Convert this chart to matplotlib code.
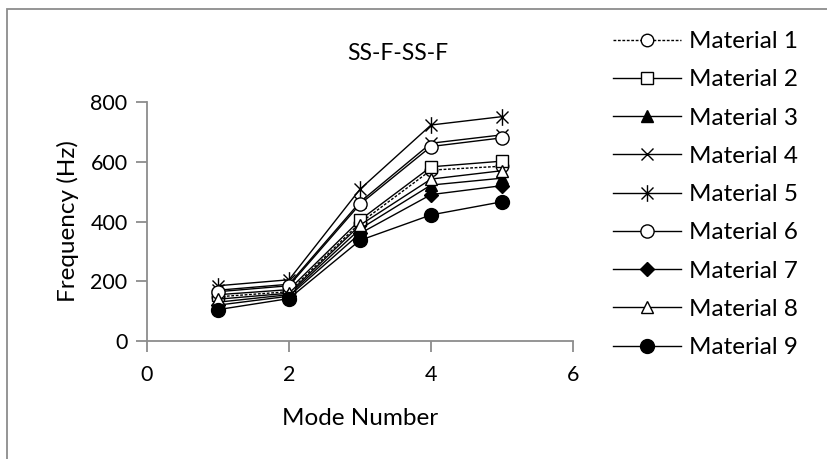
import matplotlib
matplotlib.use("Agg")
import matplotlib.pyplot as plt
from matplotlib.path import Path
from matplotlib.patches import Rectangle

# --- data ---
modes = [1, 2, 3, 4, 5]
labels = ["Material 1", "Material 2", "Material 3", "Material 4", "Material 5",
          "Material 6", "Material 7", "Material 8", "Material 9"]
m1 = [148, 165, 395, 572, 585]
m2 = [155, 172, 405, 583, 602]
m3 = [130, 155, 375, 522, 545]
m4 = [170, 190, 465, 662, 690]
m5 = [185, 205, 508, 723, 751]
m6 = [165, 185, 458, 651, 680]
m7 = [120, 150, 360, 490, 520]
m8 = [140, 160, 388, 542, 570]
m9 = [105, 142, 337, 422, 466]
series = [m1, m2, m3, m4, m5, m6, m7, m8, m9]

# Excel style asterisk: vertical bar plus an X
ast = Path([(0, -1), (0, 1), (-0.72, -0.72), (0.72, 0.72), (-0.72, 0.72), (0.72, -0.72)],
           [Path.MOVETO, Path.LINETO] * 3)

# marker, fill colour, size, line style
styles = [
    ("o", "white", 9, (0, (2, 1.2))),
    ("s", "white", 8.5, "-"),
    ("^", "black", 9, "-"),
    ("x", "none", 9, "-"),
    (ast, "none", 12, "-"),
    ("o", "white", 9.5, "-"),
    ("D", "black", 7.5, "-"),
    ("^", "white", 9, "-"),
    ("o", "black", 10, "-"),
]

plt.rcParams['font.family'] = ['Lato', 'DejaVu Sans']

fig = plt.figure(figsize=(8.28, 4.59), dpi=100)
ax = fig.add_axes([147 / 828, 1 - 341 / 459, (573 - 147) / 828, (341 - 102) / 459])

for vals, lab, (mk, fc, ms, ls) in zip(series, labels, styles):
    ax.plot(modes, vals, color="black", linewidth=1, linestyle=ls, marker=mk,
            markersize=ms, markerfacecolor=fc, markeredgecolor="black",
            markeredgewidth=1, label=lab)

ax.set_xlim(0, 6)
ax.set_ylim(0, 800)
ax.set_xticks([0, 2, 4, 6])
ax.set_yticks([0, 200, 400, 600, 800])
for side in ["top", "right"]:
    ax.spines[side].set_visible(False)
for side in ["left", "bottom"]:
    ax.spines[side].set_color("#8c8c8c")
    ax.spines[side].set_linewidth(1.3)
ax.tick_params(axis="both", colors="#8c8c8c", labelcolor="black", labelsize=15.5,
               length=8, width=1.3, direction="out")
ax.tick_params(axis="x", pad=9)
ax.tick_params(axis="y", pad=6)
ax.set_xlabel("Mode Number", fontsize=17.5, labelpad=17)
ax.set_ylabel("Frequency (Hz)", fontsize=17.5, labelpad=8)

fig.text(398 / 828, 1 - 53 / 459, "SS-F-SS-F", fontsize=16.5, ha="center", va="center")

leg = ax.legend(loc="upper left", bbox_to_anchor=(613 / 828, 1 - 31 / 459),
                bbox_transform=fig.transFigure, frameon=False, fontsize=17.5,
                handlelength=2.8, handletextpad=0.33, labelspacing=0.71,
                borderaxespad=0, borderpad=0)

# chart border (only left and top edges are visible in the crop)
fig.patches.append(Rectangle((7 / 828, -0.05), 1.2, 1 - 9 / 459 + 0.05,
                             transform=fig.transFigure, fill=False,
                             edgecolor="#8c8c8c", linewidth=1.3))

fig.savefig("out.png", dpi=100)
